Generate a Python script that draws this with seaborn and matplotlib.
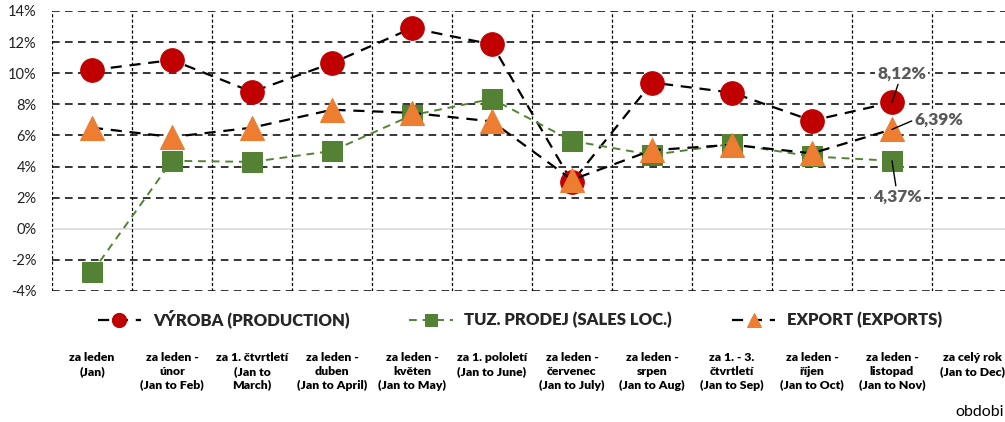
import matplotlib
matplotlib.use("Agg")
import matplotlib.pyplot as plt
import seaborn as sns
import numpy as np
import pandas as pd

categories = ["za leden\n(Jan)", "za leden -\núnor\n(Jan to Feb)", "za 1. čtvrtletí\n(Jan to\nMarch)",
              "za leden -\nduben\n(Jan to April)", "za leden -\nkvěten\n(Jan to May)",
              "za 1. pololetí\n(Jan to June)", "za leden -\nčervenec\n(Jan to July)",
              "za leden -\nsrpen\n(Jan to Aug)", "za 1. - 3.\nčtvrtletí\n(Jan to Sep)",
              "za leden -\nříjen\n(Jan to Oct)", "za leden -\nlistopad\n(Jan to Nov)",
              "za celý rok\n(Jan to Dec)"]
production = [10.2, 10.85, 8.8, 10.65, 12.9, 11.85, 3.0, 9.4, 8.75, 6.95, 8.12]
sales = [-2.8, 4.37, 4.3, 5.0, 7.3, 8.35, 5.65, 4.75, 5.45, 4.65, 4.37]
export = [6.5, 5.9, 6.5, 7.65, 7.45, 6.9, 3.15, 5.05, 5.4, 4.85, 6.39]
series_names = ["VÝROBA (PRODUCTION)", "TUZ. PRODEJ (SALES LOC.)", "EXPORT (EXPORTS)"]
yticks = [-4, -2, 0, 2, 4, 6, 8, 10, 12, 14]

sns.set_theme(style="white")
plt.rcParams["font.family"] = ["Lato", "DejaVu Sans"]

W, H = 1005, 422
fig = plt.figure(figsize=(W / 100, H / 100), dpi=100)
ax = fig.add_axes([52 / W, (H - 291) / H, 960 / W, 280 / H])
ax.set_xlim(-0.5, 11.5)
ax.set_ylim(-4, 14)
for s in ax.spines.values():
    s.set_visible(False)

# grid
for v in yticks:
    if v == 0:
        ax.axhline(v, color="#D9D9D9", lw=1.2, zorder=0)
    else:
        ax.axhline(v, color="black", lw=1.1, ls=(0, (5, 3.5)), zorder=0)
for b in np.arange(-0.5, 12, 1):
    ax.axvline(b, color="black", lw=0.9, ls=(0, (2.5, 1.8)), zorder=0)

RED, GREEN, ORANGE = "#C00000", "#548235", "#ED7D31"
idx = list(range(len(production)))
df = pd.DataFrame({"x": idx, "production": production, "sales": sales, "export": export})

sns.lineplot(data=df, x="x", y="production", ax=ax, color="black", lw=1.6,
             linestyle=(0, (5, 3.5)), marker="o", markersize=17, markerfacecolor=RED,
             markeredgecolor=RED, label=series_names[0], zorder=3)
sns.lineplot(data=df, x="x", y="sales", ax=ax, color=GREEN, lw=1.4,
             linestyle=(0, (4, 3)), marker="s", markersize=14.5, markerfacecolor=GREEN,
             markeredgecolor=GREEN, label=series_names[1], zorder=4)
sns.lineplot(data=df, x="x", y="export", ax=ax, color="black", lw=1.6,
             linestyle=(0, (5, 3.5)), marker="^", markersize=17, markerfacecolor=ORANGE,
             markeredgecolor=ORANGE, label=series_names[2], zorder=5)

handles, labels = ax.get_legend_handles_labels()
if ax.get_legend() is not None:
    ax.get_legend().remove()
fig.legend(handles, labels, loc="center", bbox_to_anchor=(520 / W, 1 - 319 / H), ncol=3,
           frameon=False, markerscale=0.6, handlelength=2.6, columnspacing=3.6,
           handletextpad=0.7, prop={"weight": "heavy", "size": 12})

ax.set_yticks(yticks)
ax.set_yticklabels([f"{v}%" for v in yticks], fontsize=10.5, color="#222222")
ax.set_xticks(range(len(categories)))
ax.set_xticklabels(categories, fontsize=8.8, fontweight="heavy", color="black", linespacing=1.3)
ax.tick_params(axis="x", length=0, pad=44)
ax.tick_params(axis="y", length=0, pad=11)
ax.set_xlabel("")
ax.set_ylabel("")

lab_color = "#595959"
box = dict(boxstyle="square,pad=0.1", fc="white", ec="none")
last = len(production) - 1
ax.annotate("8,12%", xy=(last, production[last]), xytext=(7, 21), textcoords="offset points",
            ha="center", va="center", fontsize=12.5, fontweight="heavy", color=lab_color, bbox=box,
            arrowprops=dict(arrowstyle="-", color="black", lw=1, shrinkA=1, shrinkB=0), zorder=6)
ax.annotate("6,39%", xy=(last, export[last]), xytext=(34, 7), textcoords="offset points",
            ha="center", va="center", fontsize=12.5, fontweight="heavy", color=lab_color, bbox=box,
            arrowprops=dict(arrowstyle="-", color="black", lw=1, shrinkA=1, shrinkB=0,
                            relpos=(0, 0.5)), zorder=6)
ax.annotate("4,37%", xy=(last, sales[last]), xytext=(4, -26), textcoords="offset points",
            ha="center", va="center", fontsize=12.5, fontweight="heavy", color=lab_color, bbox=box,
            arrowprops=dict(arrowstyle="-", color="black", lw=1, shrinkA=1, shrinkB=0), zorder=6)

fig.text(955 / W, 1 - 412 / H, "obdobi", fontsize=11.5, ha="left", va="center", color="black")

fig.savefig("out.png", dpi=100)
